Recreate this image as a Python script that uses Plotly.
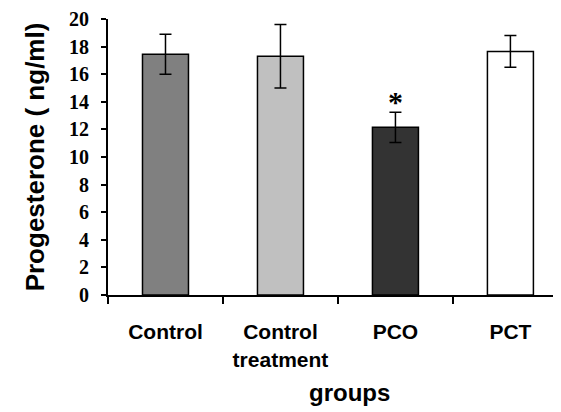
import plotly.graph_objects as go

categories = ["Control", "Control<br>treatment", "PCO", "PCT"]
means = [17.45, 17.3, 12.15, 17.65]
errors = [1.45, 2.3, 1.1, 1.15]
colors = ["#808080", "#c0c0c0", "#333333", "#ffffff"]
y_ticks = [0, 2, 4, 6, 8, 10, 12, 14, 16, 18, 20]

fig = go.Figure()
fig.add_trace(go.Bar(
    x=categories, y=means,
    marker=dict(color=colors, line=dict(color="black", width=1.5)),
    width=0.4,
    error_y=dict(type="data", array=errors, color="black", thickness=1.5, width=6),
    showlegend=False,
))

fig.update_layout(
    width=553, height=404,
    margin=dict(l=100, r=0, t=11, b=117),
    paper_bgcolor="white", plot_bgcolor="white",
    annotations=[
        dict(x="PCO", y=means[2] + errors[2], text="<b>*</b>", showarrow=False,
             yanchor="bottom", yshift=-8,
             font=dict(family="Liberation Serif", size=30, color="black")),
        dict(x=0.534, xref="paper", y=-0.355, yref="paper", text="<b>groups</b>",
             showarrow=False, yanchor="middle",
             font=dict(family="Liberation Sans", size=24, color="black")),
    ],
)

fig.update_xaxes(
    type="category", range=[-0.5, 3.44], automargin=False,
    showline=True, linecolor="black", linewidth=2,
    tickson="boundaries", ticks="outside", ticklen=7, tickwidth=1.5, tickcolor="black",
    tickfont=dict(family="Liberation Sans", size=21, color="black", weight="bold"),
    ticklabelstandoff=17,
    showgrid=False, zeroline=False,
)
fig.update_yaxes(
    range=[0, 20], tickvals=y_ticks, ticktext=[f"<b>{v}</b>" for v in y_ticks],
    automargin=False, ticklabeloverflow="allow",
    showline=True, linecolor="black", linewidth=2,
    ticks="outside", ticklen=5, tickwidth=1.5, tickcolor="black",
    tickfont=dict(family="Liberation Serif", size=20, color="black"),
    ticklabelstandoff=8,
    showgrid=False, zeroline=False,
    title=dict(text="<b>Progesterone ( ng/ml)</b>", standoff=17,
               font=dict(family="Liberation Sans", size=26, color="black")),
)

fig.write_html("out.html")
